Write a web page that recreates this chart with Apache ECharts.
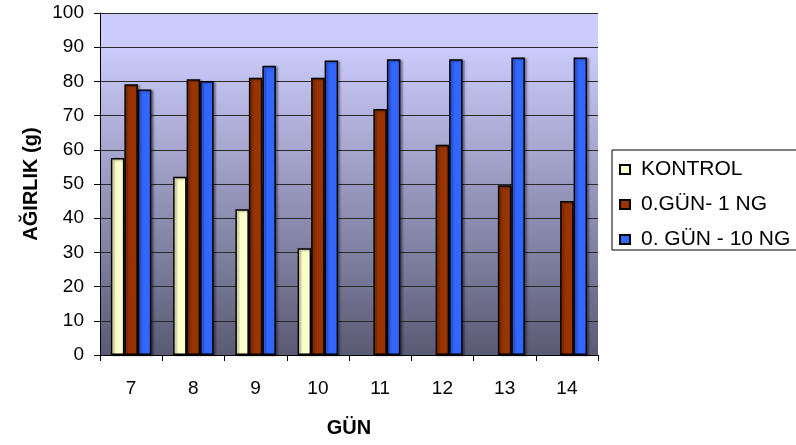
<!DOCTYPE html>
<html>
<head>
<meta charset="utf-8">
<script src="https://cdn.jsdelivr.net/npm/echarts@6/dist/echarts.min.js"></script>
<style>
html,body{margin:0;padding:0;background:#fff;}
#c{width:796px;height:445px;}
</style>
</head>
<body>
<div id="c"></div>
<script>
const categories = ['7','8','9','10','11','12','13','14'];
const kontrol = [57.6, 52.1, 42.6, 31.2, null, null, null, null];
const ng1 = [79.2, 80.6, 81.1, 81.1, 71.9, 61.5, 49.6, 45.0];
const ng10 = [77.6, 80.1, 84.6, 86.1, 86.5, 86.5, 87.0, 87.0];
const seriesNames = ['KONTROL', '0.GÜN- 1 NG', '0. GÜN - 10 NG'];
const seriesColors = ['#ffffcc', '#993300', '#3366ff'];

const font = 'Liberation Sans, Arial, sans-serif';
const chart = echarts.init(document.getElementById('c'));
const barStyle = (c) => ({
  color: c, borderColor: '#000', borderWidth: 1.5,
  shadowColor: 'rgba(0,0,0,0.35)', shadowBlur: 2, shadowOffsetX: 2, shadowOffsetY: 1
});
chart.setOption({
  animation: false,
  backgroundColor: '#fff',
  grid: {
    left: 100, right: 198, top: 13, bottom: 90, show: true, borderWidth: 0,
    backgroundColor: new echarts.graphic.LinearGradient(0, 0, 0, 1, [
      {offset: 0, color: '#ccccff'},
      {offset: 0.1, color: '#ccccfc'},
      {offset: 1, color: '#5a5a74'}
    ])
  },
  legend: {
    orient: 'vertical', left: 612, top: 150,
    data: seriesNames,
    borderColor: '#000', borderWidth: 1,
    padding: [9, 30, 0, 7],
    itemWidth: 10, itemHeight: 9, itemGap: 14,
    icon: 'rect',
    textStyle: {fontFamily: font, fontSize: 21, color: '#000', padding: [0, 0, 0, 6]}
  },
  xAxis: {
    type: 'category', data: categories,
    name: 'GÜN', nameLocation: 'middle', nameGap: 63,
    nameTextStyle: {fontFamily: font, fontSize: 20, fontWeight: 'bold', color: '#000'},
    axisLine: {lineStyle: {color: '#000', width: 1}},
    axisTick: {show: true, length: 6, lineStyle: {color: '#000'}},
    axisLabel: {fontFamily: font, fontSize: 19, color: '#000', margin: 24},
    splitLine: {show: false}
  },
  yAxis: {
    type: 'value', min: 0, max: 100, interval: 10,
    name: 'AĞIRLIK (g)', nameLocation: 'middle', nameGap: 57, nameRotate: 90,
    nameTextStyle: {fontFamily: font, fontSize: 20, fontWeight: 'bold', color: '#000'},
    axisLine: {show: true, lineStyle: {color: '#000', width: 1}},
    axisTick: {show: true, length: 6, lineStyle: {color: '#000'}},
    axisLabel: {fontFamily: font, fontSize: 19, color: '#000', margin: 16},
    splitLine: {show: true, lineStyle: {color: '#2a2a2a', width: 1}}
  },
  series: [
    {name: seriesNames[0], type: 'bar', data: kontrol, barGap: '0%', barCategoryGap: '35%', itemStyle: barStyle(seriesColors[0])},
    {name: seriesNames[1], type: 'bar', data: ng1, barGap: '0%', barCategoryGap: '35%', itemStyle: barStyle(seriesColors[1])},
    {name: seriesNames[2], type: 'bar', data: ng10, barGap: '0%', barCategoryGap: '35%', itemStyle: barStyle(seriesColors[2])}
  ]
});
</script>
</body>
</html>
